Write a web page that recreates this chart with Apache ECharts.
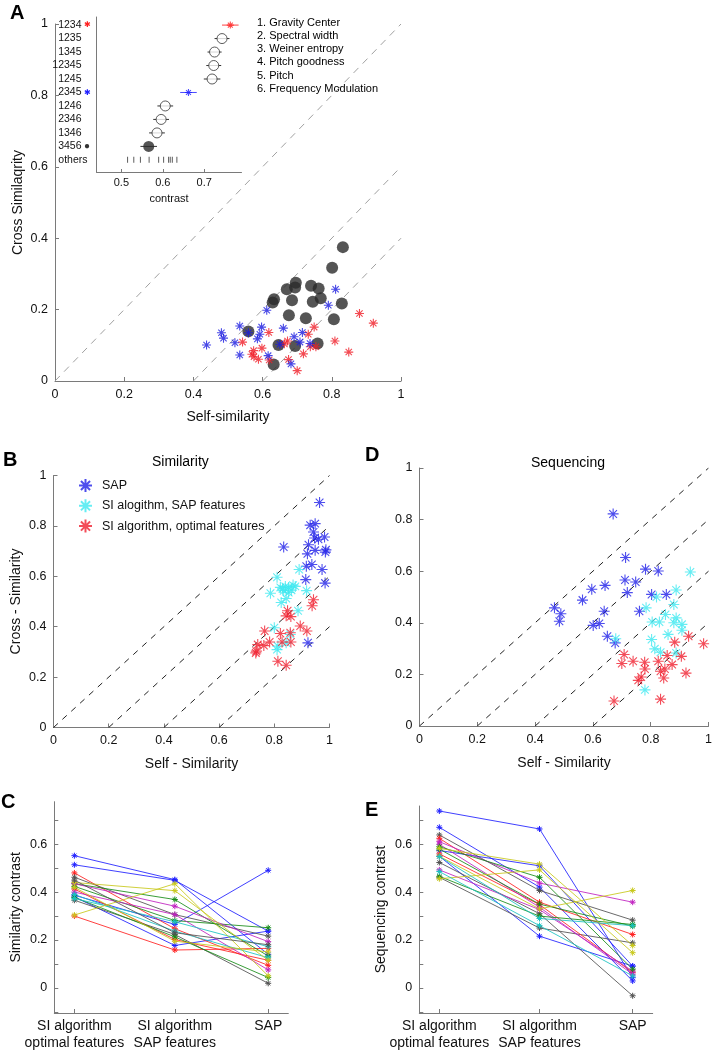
<!DOCTYPE html>
<html>
<head>
<meta charset="utf-8">
<script src="https://cdn.jsdelivr.net/npm/echarts@6/dist/echarts.min.js"></script>
<style>html,body{margin:0;padding:0;background:#fff}#c{width:715px;height:1052px}</style>
</head>
<body>
<div id="c"></div>
<script>
// ---------- Panel A data ----------
const aBlackX = [0.832,0.801,0.696,0.670,0.694,0.740,0.762,0.633,0.629,0.685,0.745,0.768,0.829,0.676,0.725,0.806,0.559,0.646,0.694,0.759,0.632];
const aBlackY = [0.375,0.317,0.275,0.257,0.262,0.267,0.259,0.229,0.220,0.226,0.222,0.232,0.217,0.184,0.176,0.173,0.139,0.101,0.098,0.105,0.046];
const aBlueX = [0.811,0.790,0.612,0.534,0.481,0.487,0.438,0.520,0.534,0.559,0.597,0.592,0.585,0.660,0.715,0.691,0.708,0.737,0.650,0.616,0.682];
const aBlueY = [0.257,0.212,0.198,0.154,0.135,0.120,0.101,0.107,0.073,0.135,0.151,0.131,0.118,0.148,0.136,0.124,0.109,0.105,0.103,0.071,0.048];
const aRedX = [0.880,0.920,0.749,0.732,0.618,0.542,0.598,0.574,0.569,0.575,0.588,0.619,0.672,0.663,0.718,0.675,0.700,0.754,0.738,0.809,0.849];
const aRedY = [0.189,0.162,0.151,0.131,0.136,0.109,0.092,0.085,0.075,0.068,0.061,0.059,0.112,0.104,0.076,0.060,0.029,0.096,0.096,0.112,0.081];
const aDiagOffsets = [0, 0.4, 0.6];
const featureNames = ['1. Gravity Center','2. Spectral width','3. Weiner entropy','4. Pitch goodness','5. Pitch','6. Frequency Modulation'];
// inset
const insetLabels = ['1234','1235','1345','12345','1245','2345','1246','2346','1346','3456','others'];
const insetMeans = [0.763,0.743,0.725,0.723,0.719,0.662,0.606,0.596,0.586,0.566];
const insetErr = [0.020,0.018,0.017,0.018,0.020,0.020,0.019,0.019,0.019,0.020];
const othersVals = [0.515,0.530,0.546,0.567,0.590,0.602,0.614,0.618,0.623,0.634];
const insetTicks = [0.5,0.6,0.7];

// ---------- Panel B data ----------
const bSapX = [0.964,0.930,0.948,0.942,0.946,0.960,0.982,0.834,0.924,0.948,0.987,0.985,0.920,0.936,0.916,0.973,0.914,0.984,0.922];
const bSapY = [0.893,0.803,0.809,0.776,0.752,0.747,0.756,0.716,0.725,0.703,0.705,0.696,0.689,0.647,0.640,0.627,0.587,0.573,0.336];
const bCyanX = [0.890,0.810,0.786,0.822,0.840,0.852,0.868,0.876,0.834,0.852,0.843,0.825,0.917,0.886,0.800,0.858,0.813,0.810,0.843,0.830,0.862];
const bCyanY = [0.627,0.596,0.533,0.556,0.560,0.556,0.565,0.560,0.543,0.536,0.512,0.496,0.543,0.463,0.396,0.369,0.323,0.309,0.336,0.550,0.545];
const bRedX = [0.942,0.937,0.848,0.843,0.860,0.894,0.918,0.765,0.822,0.858,0.783,0.740,0.762,0.828,0.860,0.735,0.733,0.813,0.843];
const bRedY = [0.507,0.483,0.463,0.443,0.440,0.403,0.383,0.383,0.373,0.376,0.339,0.329,0.325,0.339,0.339,0.303,0.296,0.263,0.247];
const bdDiagOffsets = [0, 0.2, 0.4, 0.6];

// ---------- Panel D data ----------
const dSapX = [0.670,0.713,0.782,0.826,0.711,0.748,0.596,0.642,0.719,0.803,0.854,0.564,0.467,0.489,0.484,0.639,0.761,0.622,0.601,0.650,0.677];
const dSapY = [0.822,0.653,0.608,0.601,0.566,0.558,0.530,0.545,0.517,0.510,0.510,0.488,0.458,0.435,0.406,0.445,0.445,0.397,0.390,0.348,0.322];
const dCyanX = [0.937,0.888,0.820,0.880,0.784,0.851,0.888,0.880,0.805,0.830,0.908,0.908,0.860,0.803,0.679,0.814,0.834,0.888,0.780];
const dCyanY = [0.597,0.527,0.500,0.471,0.458,0.432,0.419,0.400,0.403,0.403,0.394,0.371,0.355,0.335,0.338,0.299,0.286,0.283,0.140];
const dRedX = [0.931,0.983,0.883,0.708,0.857,0.906,0.700,0.739,0.779,0.826,0.780,0.874,0.849,0.834,0.922,0.845,0.767,0.757,0.834,0.673];
const dRedY = [0.348,0.319,0.325,0.277,0.273,0.270,0.242,0.251,0.247,0.251,0.221,0.238,0.221,0.212,0.205,0.186,0.190,0.177,0.104,0.097];

// ---------- Panels C / E data ----------
const groupNames = ['SI algorithm\noptimal features','SI algorithm\nSAP features','SAP'];
const groupPos = [1, 2, 2.93];
const cOptimal = [0.552,0.514,0.387,0.380,0.480,0.413,0.300,0.462,0.366,0.435,0.424,0.378,0.435,0.400,0.373,0.390,0.304,0.440,0.420,0.450];
const cSapFeat = [0.452,0.449,0.265,0.177,0.247,0.202,0.158,0.306,0.223,0.369,0.281,0.213,0.341,0.306,0.276,0.237,0.435,0.406,0.195,0.230];
const cSap     = [0.140,0.237,0.491,0.237,0.094,0.115,0.165,0.216,0.019,0.133,0.251,0.043,0.193,0.075,0.172,0.126,0.050,0.115,0.150,0.180];
const cColorKeys = ['b','b','b','b','r','r','r','k','k','g','g','g','m','m','c','c','y','y','y','k'];
const eOptimal = [0.739,0.671,0.574,0.550,0.639,0.524,0.462,0.625,0.560,0.611,0.600,0.493,0.590,0.466,0.580,0.583,0.456,0.550,0.549,0.486];
const eSapFeat = [0.664,0.421,0.510,0.216,0.407,0.310,0.250,0.358,0.348,0.438,0.337,0.327,0.462,0.300,0.350,0.517,0.493,0.330,0.290,0.260];
const eSap     = [0.043,0.029,0.091,0.091,0.283,-0.033,0.188,0.223,0.064,0.358,0.057,0.070,0.078,0.265,0.258,0.177,0.147,0.407,0.260,0.050];
const eColorKeys = ['b','b','b','b','k','k','k','r','r','m','m','m','g','g','g','y','y','y','c','c'];

// ---------- styling ----------
const FONT = 'Liberation Sans, Arial, sans-serif';
const palette = {b:'#1f1fff', g:'#168c16', r:'#ff2020', c:'#19c2c2', m:'#c020c0', y:'#c8c81a', k:'#505050'};
const STAR = 'path://M0,-10L0,10M-10,0L10,0M-7,-7L7,7M-7,7L7,-7';
const axisGray = '#7a7a7a';

function zip(xs, ys){ return xs.map((x,i)=>[x, ys[i]]); }

function baseAxis(extra){
  return Object.assign({
    type:'value',
    splitLine:{show:false},
    axisLine:{show:true, onZero:false, lineStyle:{color:axisGray, width:1}},
    axisTick:{show:true, inside:true, length:4, lineStyle:{color:axisGray}},
    axisLabel:{color:'#111', fontSize:12.5, fontFamily:FONT, margin:7},
    nameTextStyle:{color:'#111', fontSize:14, fontFamily:FONT}
  }, extra);
}

function starScatter(name, data, color, size, xi, yi, z){
  return {type:'scatter', name:name, xAxisIndex:xi, yAxisIndex:yi, data:data,
    symbol:STAR, symbolSize:size, z:z||3, silent:true,
    itemStyle:{color:color, borderColor:color, borderWidth:1.1, opacity:0.8}};
}
function diagLines(offsets, xi, yi, color, dash){
  return offsets.map(o=>({type:'line', xAxisIndex:xi, yAxisIndex:yi, data:[[o,0],[1,1-o]],
    symbol:'none', silent:true, z:1, lineStyle:{color:color, width:1, type:dash}}));
}

const grids = [
  {left:55, top:24, width:346, height:357},      // 0 A main
  {left:96.5, top:17, width:145, height:155},    // 1 A inset
  {left:53.5, top:475.5, width:276, height:252}, // 2 B
  {left:419.5, top:468, width:290.5, height:258},// 3 D
  {left:54.3, top:801.7, width:234, height:212.3},// 4 C
  {left:419.3, top:806, width:233.4, height:208} // 5 E
];

const ctTicks = [-0.1,0,0.1,0.2,0.3,0.4,0.5,0.6,0.7];
const ctLabels = [0,0.2,0.4,0.6];

const xAxes = [
  baseAxis({gridIndex:0, min:0, max:1, interval:0.2, name:'Self-similarity', nameLocation:'middle', nameGap:29}),
  baseAxis({gridIndex:1, min:0.44, max:0.79, name:'contrast', nameLocation:'middle', nameGap:21,
    nameTextStyle:{color:'#111', fontSize:11, fontFamily:FONT},
    axisTick:{show:true, inside:true, length:3, lineStyle:{color:axisGray}, customValues:insetTicks},
    axisLabel:{color:'#111', fontSize:11, fontFamily:FONT, margin:5, customValues:insetTicks}}),
  baseAxis({gridIndex:2, min:0, max:1, interval:0.2, name:'Self - Similarity', nameLocation:'middle', nameGap:30}),
  baseAxis({gridIndex:3, min:0, max:1, interval:0.2, name:'Self - Similarity', nameLocation:'middle', nameGap:30}),
  baseAxis({gridIndex:4, min:0.8, max:3.13,
    axisTick:{show:true, inside:true, length:4, lineStyle:{color:axisGray}, customValues:groupPos},
    axisLabel:{color:'#111', fontSize:14, lineHeight:17, fontFamily:FONT, margin:5, customValues:groupPos,
      formatter:v=>groupNames[groupPos.indexOf(v)] || ''}}),
  baseAxis({gridIndex:5, min:0.8, max:3.13,
    axisTick:{show:true, inside:true, length:4, lineStyle:{color:axisGray}, customValues:groupPos},
    axisLabel:{color:'#111', fontSize:14, lineHeight:17, fontFamily:FONT, margin:5, customValues:groupPos,
      formatter:v=>groupNames[groupPos.indexOf(v)] || ''}})
];

const insetRowIdx = insetLabels.map((_,i)=>i);
const yAxes = [
  baseAxis({gridIndex:0, min:0, max:1, interval:0.2, name:'Cross Similaqrity', nameLocation:'middle', nameGap:30}),
  baseAxis({gridIndex:1, min:-0.6, max:10.9, inverse:true,
    axisTick:{show:false},
    axisLabel:{color:'#111', fontSize:10, fontFamily:FONT, margin:4, customValues:insetRowIdx,
      formatter:v=>{
        const i = Math.round(v);
        const lbl = insetLabels[i];
        let mk = '{s| }';
        if (i===0) mk='{r|✱}'; else if (i===5) mk='{bl|✱}'; else if (i===9) mk='{k|●}'; else if (i===10) mk='{s2| }';
        return '{t|'+lbl+'}'+mk;
      },
      rich:{t:{fontSize:10.5, color:'#111', fontFamily:FONT},
        r:{fontSize:8, color:'#ff2020', width:11, align:'center'},
        bl:{fontSize:8, color:'#2020ff', width:11, align:'center'},
        k:{fontSize:10, color:'#333', width:11, align:'center'},
        s:{width:11}, s2:{width:5}}}}),
  baseAxis({gridIndex:2, min:0, max:1, interval:0.2, name:'Cross - Similarity', nameLocation:'middle', nameGap:30}),
  baseAxis({gridIndex:3, min:0, max:1, interval:0.2}),
  baseAxis({gridIndex:4, min:-0.105, max:0.7775, name:'Similarity contrast', nameLocation:'middle', nameGap:31,
    axisTick:{show:true, inside:true, length:4, lineStyle:{color:axisGray}, customValues:ctTicks},
    axisLabel:{color:'#111', fontSize:12.5, fontFamily:FONT, margin:7, customValues:ctLabels}}),
  baseAxis({gridIndex:5, min:-0.105, max:0.76, name:'Sequencing contrast', nameLocation:'middle', nameGap:31,
    axisTick:{show:true, inside:true, length:4, lineStyle:{color:axisGray}, customValues:ctTicks},
    axisLabel:{color:'#111', fontSize:12.5, fontFamily:FONT, margin:7, customValues:ctLabels}})
];

const series = [];
// A main
diagLines(aDiagOffsets, 0, 0, '#a0a0a0', [7,6]).forEach(s=>series.push(s));
series.push({type:'scatter', xAxisIndex:0, yAxisIndex:0, data:zip(aBlackX,aBlackY), symbol:'circle', symbolSize:12,
  silent:true, z:2, itemStyle:{color:'#2b2b2b'}});
series.push(starScatter('A red', zip(aRedX,aRedY), '#f01e28', 9, 0, 0, 3));
series.push(starScatter('A blue', zip(aBlueX,aBlueY), '#1a1ae0', 9, 0, 0, 4));

// A inset
const errColors = insetMeans.map((_,i)=> i===0 ? '#ff4040' : (i===5 ? '#4a4aff' : '#333'));
series.push({type:'custom', xAxisIndex:1, yAxisIndex:1, silent:true, z:2,
  data: insetMeans.map((m,i)=>[i, m-insetErr[i], m+insetErr[i]]),
  encode:{x:[1,2], y:0},
  renderItem:(params, api)=>{
    const i = api.value(0);
    const p1 = api.coord([api.value(1), i]);
    const p2 = api.coord([api.value(2), i]);
    return {type:'line', shape:{x1:p1[0], y1:p1[1], x2:p2[0], y2:p2[1]}, style:{stroke:errColors[params.dataIndex], lineWidth:1}};
  }});
const openRows = insetMeans.map((m,i)=>[m,i]).filter((_,i)=> i!==0 && i!==5 && i!==9);
series.push({type:'scatter', xAxisIndex:1, yAxisIndex:1, data:openRows, symbol:'circle', symbolSize:10, silent:true, z:3,
  itemStyle:{color:'#fff', borderColor:'#333', borderWidth:1}});
series.push({type:'scatter', xAxisIndex:1, yAxisIndex:1, data:[[insetMeans[9],9]], symbol:'circle', symbolSize:11, silent:true, z:3,
  itemStyle:{color:'#2b2b2b'}});
series.push(starScatter('inset red', [[insetMeans[0],0]], '#ff2020', 7, 1, 1, 4));
series.push(starScatter('inset blue', [[insetMeans[5],5]], '#2020ff', 7, 1, 1, 4));
series.push({type:'scatter', xAxisIndex:1, yAxisIndex:1, data:othersVals.map(v=>[v,10]), symbol:'rect', symbolSize:[1,6], silent:true,
  itemStyle:{color:'#333'}});

// B
diagLines(bdDiagOffsets, 2, 2, '#222', [6,6]).forEach(s=>series.push(s));
series.push(starScatter('SAP', zip(bSapX,bSapY), '#2020e8', 11, 2, 2, 3));
series.push(starScatter('SI alogithm, SAP features', zip(bCyanX,bCyanY), '#3ee8f0', 11, 2, 2, 3));
series.push(starScatter('SI algorithm, optimal features', zip(bRedX,bRedY), '#f02030', 11, 2, 2, 4));
// D
diagLines(bdDiagOffsets, 3, 3, '#222', [6,6]).forEach(s=>series.push(s));
series.push(starScatter('SAP', zip(dSapX,dSapY), '#2020e8', 11, 3, 3, 3));
series.push(starScatter('SI alogithm, SAP features', zip(dCyanX,dCyanY), '#3ee8f0', 11, 3, 3, 3));
series.push(starScatter('SI algorithm, optimal features', zip(dRedX,dRedY), '#f02030', 11, 3, 3, 4));

// C and E
function contrastLines(a, b, c, keys, idx){
  a.forEach((v,i)=>{
    const col = palette[keys[i]];
    series.push({type:'line', xAxisIndex:idx, yAxisIndex:idx, silent:true, z:3,
      data:[[groupPos[0],v],[groupPos[1],b[i]],[groupPos[2],c[i]]],
      symbol:STAR, symbolSize:6, showSymbol:true,
      lineStyle:{color:col, width:1, opacity:0.85},
      itemStyle:{color:col, borderColor:col, borderWidth:1}});
  });
}
contrastLines(cOptimal, cSapFeat, cSap, cColorKeys, 4);
contrastLines(eOptimal, eSapFeat, eSap, eColorKeys, 5);

function txt(left, top, text, size, bold, align){
  return {type:'text', left:left, top:top, silent:true,
    style:{text:text, fontSize:size, fontWeight:bold?'bold':'normal', fill:'#000', fontFamily:FONT, textAlign:align||'left'}};
}
const graphics = [
  txt(10, 3, 'A', 20, true),
  txt(3, 450, 'B', 20, true),
  txt(1, 792, 'C', 20, true),
  txt(365, 445, 'D', 20, true),
  txt(365, 800, 'E', 20, true),
  txt(152, 455, 'Similarity', 14, false),
  txt(531, 456, 'Sequencing', 14, false)
];
featureNames.forEach((f,i)=>graphics.push(txt(257, 17 + i*13.25, f, 11, false)));

const option = {
  animation:false,
  textStyle:{fontFamily:FONT},
  grid:grids,
  xAxis:xAxes,
  yAxis:yAxes,
  legend:{data:['SAP','SI alogithm, SAP features','SI algorithm, optimal features'],
    left:73, top:473, orient:'vertical', itemGap:5.3, itemWidth:13, itemHeight:13, selectedMode:false,
    textStyle:{fontSize:12.5, color:'#111', fontFamily:FONT, padding:[0,0,0,5]}},
  graphic:graphics,
  series:series
};
const chart = echarts.init(document.getElementById('c'), null, {renderer:'canvas'});
chart.setOption(option);
</script>
</body>
</html>
